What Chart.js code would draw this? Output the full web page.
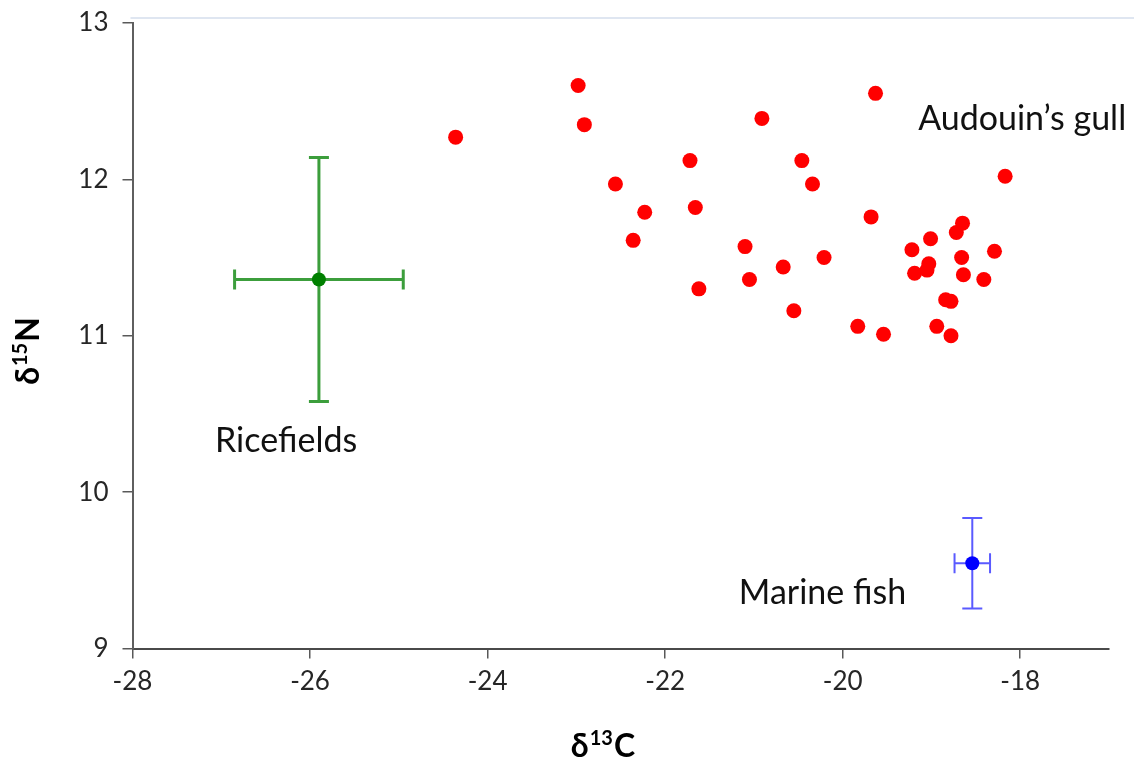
<!DOCTYPE html>
<html>
<head>
<meta charset="utf-8">
<script src="https://cdn.jsdelivr.net/npm/chart.js@4.4.1/dist/chart.umd.min.js"></script>
<style>
  html, body { margin: 0; padding: 0; background: #fff; }
  #wrap { width: 1134px; height: 762px; }
</style>
</head>
<body>
<div id="wrap"><canvas id="isoChart" width="1134" height="762"></canvas></div>
<script>
// Audouin's gull individuals (delta13C, delta15N)
const gullC = [-24.36, -22.98, -22.91, -22.56, -22.23, -22.36, -21.72, -21.66, -21.62, -21.10,
               -21.05, -20.91, -20.67, -20.55, -19.63, -20.46, -20.34, -18.17, -19.68, -20.21,
               -19.83, -19.54, -19.22, -19.01, -19.19, -19.05, -19.03, -18.72, -18.65, -18.66,
               -18.64, -18.41, -18.29, -18.84, -18.78, -18.94, -18.78];
const gullN = [12.27, 12.60, 12.35, 11.97, 11.79, 11.61, 12.12, 11.82, 11.30, 11.57,
               11.36, 12.39, 11.44, 11.16, 12.55, 12.12, 11.97, 12.02, 11.76, 11.50,
               11.06, 11.01, 11.55, 11.62, 11.40, 11.42, 11.46, 11.66, 11.72, 11.50,
               11.39, 11.36, 11.54, 11.23, 11.22, 11.06, 11.00];

// prey sources: mean and SD
const riceC = [-25.90], riceN = [11.36], riceSdC = [0.95], riceSdN = [0.78];
const fishC = [-18.54], fishN = [9.545], fishSdC = [0.20], fishSdN = [0.29];

const xTicks = [-28, -26, -24, -22, -20, -18];
const yTicks = [9, 10, 11, 12, 13];

const labelTexts = ['Audouin\u2019s gull', 'Ricefields', 'Marine fish'];
const labelC = [-19.15, -27.07, -21.17];
const labelN = [12.315, 10.256, 9.285];

const xTitle = ['\u03b4', '13', 'C'];
const yTitle = ['\u03b4', '15', 'N'];

const toPoints = (xs, ys) => xs.map((v, i) => ({ x: v, y: ys[i] }));

const errorBars = {
  id: 'errorBars',
  beforeDatasetsDraw(chart) {
    const { ctx, scales: { x, y } } = chart;
    const sets = [
      { c: riceC, n: riceN, sc: riceSdC, sn: riceSdN, color: '#3c9e3c', w: 3, cap: 10 },
      { c: fishC, n: fishN, sc: fishSdC, sn: fishSdN, color: '#5a5aff', w: 2, cap: 10 }
    ];
    ctx.save();
    sets.forEach(s => {
      s.c.forEach((cv, i) => {
        const px = x.getPixelForValue(cv), py = y.getPixelForValue(s.n[i]);
        const xl = x.getPixelForValue(cv - s.sc[i]), xr = x.getPixelForValue(cv + s.sc[i]);
        const yt = y.getPixelForValue(s.n[i] + s.sn[i]), yb = y.getPixelForValue(s.n[i] - s.sn[i]);
        ctx.strokeStyle = s.color;
        ctx.lineWidth = s.w;
        ctx.beginPath();
        ctx.moveTo(xl, py); ctx.lineTo(xr, py);
        ctx.moveTo(xl, py - s.cap); ctx.lineTo(xl, py + s.cap);
        ctx.moveTo(xr, py - s.cap); ctx.lineTo(xr, py + s.cap);
        ctx.moveTo(px, yt); ctx.lineTo(px, yb);
        ctx.moveTo(px - s.cap, yt); ctx.lineTo(px + s.cap, yt);
        ctx.moveTo(px - s.cap, yb); ctx.lineTo(px + s.cap, yb);
        ctx.stroke();
      });
    });
    ctx.restore();
  },
  afterDraw(chart) {
    const { ctx, chartArea, scales: { x, y } } = chart;
    ctx.save();
    // faint frame line along the top
    ctx.strokeStyle = '#dfe6f1';
    ctx.lineWidth = 2;
    ctx.beginPath();
    ctx.moveTo(chartArea.left - 2, chartArea.top - 5);
    ctx.lineTo(chart.width, chartArea.top - 5);
    ctx.stroke();

    // text labels for the groups
    ctx.fillStyle = '#111';
    ctx.font = '34px Lato';
    ctx.textBaseline = 'alphabetic';
    ctx.textAlign = 'left';
    labelTexts.forEach((t, i) => {
      ctx.fillText(t, x.getPixelForValue(labelC[i]), y.getPixelForValue(labelN[i]));
    });

    // axis titles with superscripts
    const drawSup = (parts) => {
      ctx.font = 'bold 32px Lato';
      const w0 = ctx.measureText(parts[0]).width;
      const w2 = ctx.measureText(parts[2]).width;
      ctx.font = 'bold 20px Lato';
      const w1 = ctx.measureText(parts[1]).width;
      const total = w0 + w1 + w2 + 2;
      let cx = -total / 2;
      ctx.font = 'bold 32px Lato';
      ctx.fillText(parts[0], cx, 0); cx += w0 + 1;
      ctx.font = 'bold 20px Lato';
      ctx.fillText(parts[1], cx, -12); cx += w1 + 1;
      ctx.font = 'bold 32px Lato';
      ctx.fillText(parts[2], cx, 0);
    };
    ctx.fillStyle = '#000';
    ctx.save();
    ctx.translate(603, 757);
    drawSup(xTitle);
    ctx.restore();
    ctx.save();
    ctx.translate(39, 351);
    ctx.rotate(-Math.PI / 2);
    drawSup(yTitle);
    ctx.restore();
    ctx.restore();
  }
};

const ctx = document.getElementById('isoChart').getContext('2d');
new Chart(ctx, {
  type: 'scatter',
  data: {
    datasets: [
      { label: 'Audouin\u2019s gull', data: toPoints(gullC, gullN),
        backgroundColor: '#ff0000', borderColor: '#ff0000', pointRadius: 7.5, borderWidth: 0 },
      { label: 'Ricefields', data: toPoints(riceC, riceN),
        backgroundColor: '#008000', borderColor: '#008000', pointRadius: 7, borderWidth: 0 },
      { label: 'Marine fish', data: toPoints(fishC, fishN),
        backgroundColor: '#0000ff', borderColor: '#0000ff', pointRadius: 7, borderWidth: 0 }
    ]
  },
  options: {
    responsive: false,
    animation: false,
    layout: { padding: { left: 0, top: 23, right: 25, bottom: 0 } },
    plugins: { legend: { display: false }, tooltip: { enabled: false } },
    scales: {
      x: {
        type: 'linear', min: -28, max: -17,
        afterBuildTicks: s => { s.ticks = xTicks.map(v => ({ value: v })); },
        afterFit: s => { s.height = 113.5; s.paddingLeft = 0; s.paddingRight = 0; },
        grid: { drawOnChartArea: false, drawTicks: true, tickLength: 10, color: '#595959', lineWidth: 1.5 },
        border: { display: true, color: '#4a4a4a', width: 2 },
        ticks: { color: '#262626', font: { family: 'Lato', size: 26 }, padding: 8 }
      },
      y: {
        type: 'linear', min: 9, max: 13,
        afterBuildTicks: s => { s.ticks = yTicks.map(v => ({ value: v })); },
        afterFit: s => { s.width = 132.5; s.paddingTop = 0; s.paddingBottom = 0; },
        grid: { drawOnChartArea: false, drawTicks: true, tickLength: 10, color: '#595959', lineWidth: 1.5 },
        border: { display: true, color: '#5f5f5f', width: 2 },
        ticks: { color: '#262626', font: { family: 'Lato', size: 26 }, padding: 14 }
      }
    }
  },
  plugins: [errorBars]
});
</script>
</body>
</html>
